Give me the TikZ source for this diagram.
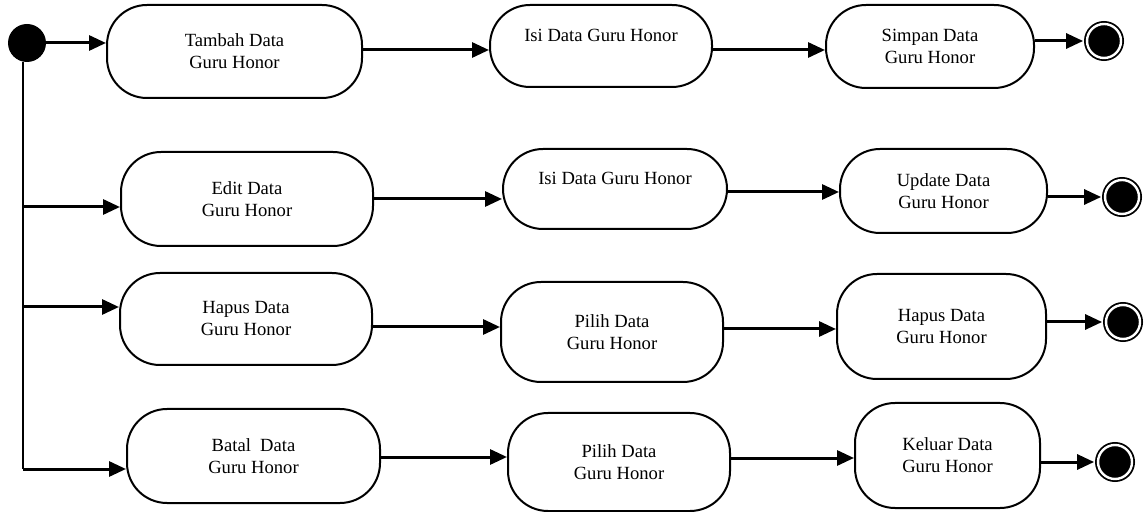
\documentclass[tikz,border=0pt]{standalone}
\usepackage{fontspec}
\setmainfont{Liberation Serif}
\usetikzlibrary{arrows.meta}

\tikzset{
   act/.style 2 args={draw,line width=1pt,rounded corners=20pt,align=center,
      inner sep=0pt,minimum width=#1*0.5pt,minimum height=#2*0.5pt,
      font=\fontsize{9.3}{11}\selectfont}
}

\begin{document}
\begin{tikzpicture}
   [x=0.5pt,y=-0.5pt,
    arr/.style={-{Triangle[length=8.5pt,width=7.5pt]},line width=1.5pt},
    initnode/.style={circle,fill=black,inner sep=0pt,minimum size=19pt},
    finalnode/.style={circle,draw,fill=black,line width=0.9pt,double,
       double distance=1.2pt,inner sep=0pt,minimum size=17pt}]
   \useasboundingbox (0,0) rectangle (1144,512);

   \node[initnode] (init) at (27,43) {};

   % tambah
   \node[act={255}{93}] (tambah) at (234.5,51.5) {Tambah Data\\Guru Honor};
   \node[act={222}{82}] (isiTambah) at (601,46) {Isi Data Guru Honor\\\mbox{}};
   \node[act={208}{83}] (simpan) at (930,46.5) {Simpan Data\\Guru Honor};
   \node[finalnode] (endTambah) at (1104,41) {};

   % edit
   \node[act={252}{94}] (edit) at (247,199) {Edit Data\\Guru Honor};
   \node[act={224}{80}] (isiEdit) at (615,189) {Isi Data Guru Honor\\\mbox{}};
   \node[act={207}{84}] (update) at (943.5,191) {Update Data\\Guru Honor};
   \node[finalnode] (endEdit) at (1122,197) {};

   % hapus
   \node[act={252}{92}] (hapus) at (246,319) {Hapus Data\\Guru Honor};
   \node[act={222}{100}] (pilihHapus) at (612,332) {Pilih Data\\Guru Honor};
   \node[act={209}{105}] (hapusData) at (941.5,326.5) {Hapus Data\\Guru Honor};
   \node[finalnode] (endHapus) at (1123,322) {};

   % batal
   \node[act={253}{94}] (batal) at (253.5,456) {Batal\ \ Data\\Guru Honor};
   \node[act={222}{98}] (pilihBatal) at (619,462) {Pilih Data\\Guru Honor};
   \node[act={185}{105}] (keluar) at (947.5,455.5) {Keluar Data\\Guru Honor};
   \node[finalnode] (endBatal) at (1115,462) {};

   \coordinate (toEdit) at (23,207);
   \coordinate (toHapus) at (23,307);
   \coordinate (toBatal) at (23,469);

   \draw[line width=1pt] ([xshift=-2pt]init.south) -- (toBatal);
   \draw[arr] (init) -- (init -| tambah.west);
   \draw[arr] (toEdit) -- (toEdit -| edit.west);
   \draw[arr] (toHapus) -- (toHapus -| hapus.west);
   \draw[arr] (toBatal) -- (toBatal -| batal.west);

   \draw[arr] (tambah.east |- 0,50) -- (isiTambah.west |- 0,50);
   \draw[arr] (isiTambah.east |- 0,50) -- (simpan.west |- 0,50);
   \draw[arr,shorten >=1.5pt] (simpan.east |- endTambah) -- (endTambah);

   \draw[arr] (edit.east |- 0,199) -- (isiEdit.west |- 0,199);
   \draw[arr] (isiEdit.east |- 0,192) -- (update.west |- 0,192);
   \draw[arr,shorten >=1.5pt] (update.east |- endEdit) -- (endEdit);

   \draw[arr] (hapus.east |- 0,327) -- (pilihHapus.west |- 0,327);
   \draw[arr] (pilihHapus.east |- 0,329) -- (hapusData.west |- 0,329);
   \draw[arr,shorten >=1.5pt] (hapusData.east |- endHapus) -- (endHapus);

   \draw[arr] (batal.east |- 0,457) -- (pilihBatal.west |- 0,457);
   \draw[arr] (pilihBatal.east |- 0,458) -- (keluar.west |- 0,458);
   \draw[arr,shorten >=1.5pt] (keluar.east |- endBatal) -- (endBatal);
\end{tikzpicture}
\end{document}
